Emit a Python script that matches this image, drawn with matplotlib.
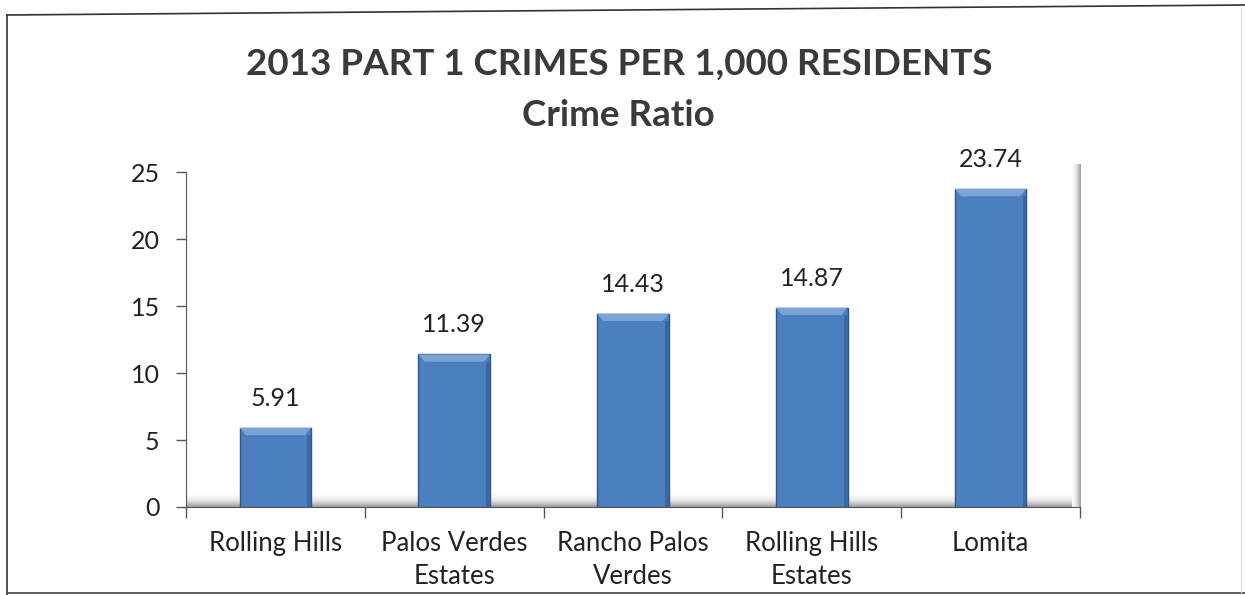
import matplotlib
matplotlib.use("Agg")
import matplotlib.pyplot as plt
import matplotlib.patches as mpatches
from matplotlib.colors import LinearSegmentedColormap
import numpy as np

plt.rcParams['font.family'] = ['Lato', 'DejaVu Sans']

TITLE = "2013 PART 1 CRIMES PER 1,000 RESIDENTS\nCrime Ratio"
cities = ["Rolling Hills", "Palos Verdes\nEstates", "Rancho Palos\nVerdes",
          "Rolling Hills\nEstates", "Lomita"]
crime_ratio = [5.91, 11.39, 14.43, 14.87, 23.74]
y_ticks = [0, 5, 10, 15, 20, 25]

BAR_COLOUR = '#4c7fbf'
BEVEL_COLOUR = '#7ba3d5'
EDGE_COLOUR = '#2f5689'
TEXT_COLOUR = '#222222'
BAR_WIDTH = 0.4

fig = plt.figure(figsize=(12.45, 5.95), dpi=100)
ax = fig.add_axes([186 / 1245, 1 - 507 / 595, (1080 - 186) / 1245, 343 / 595])

x = np.arange(len(cities))
ax.set_xlim(-0.5, len(cities) - 0.5)
ax.set_ylim(0, 25.6)

grey_fade = LinearSegmentedColormap.from_list('fade', ['#ffffff', '#e6e6e6', '#9c9c9c'])

# grey floor along the bottom of the plot area, darker towards the axis
floor = np.linspace(1, 0, 64).reshape(-1, 1)
ax.imshow(floor, cmap=grey_fade, vmin=0, vmax=1, aspect='auto', origin='lower',
          extent=(-0.5, len(cities) - 0.5, 0, 0.9), zorder=1)
# grey side wall on the right
wall = np.linspace(0, 1, 32).reshape(1, -1)
ax.imshow(wall, cmap=grey_fade, vmin=0, vmax=1, aspect='auto',
          extent=(len(cities) - 0.545, len(cities) - 0.5, 0, 25.6), zorder=1)

bars = ax.bar(x, crime_ratio, width=BAR_WIDTH, color=BAR_COLOUR,
              edgecolor=EDGE_COLOUR, linewidth=1.0, zorder=3)

# bevelled top on each bar
bx = 0.035
by = 0.55
for rect in bars:
    x0 = rect.get_x()
    x1 = x0 + rect.get_width()
    top = rect.get_height()
    bevel = mpatches.Polygon([(x0, top), (x1, top), (x1 - bx, top - by),
                              (x0 + bx, top - by)], closed=True,
                             facecolor=BEVEL_COLOUR, edgecolor='none', zorder=4)
    ax.add_patch(bevel)
    shade = mpatches.Rectangle((x1 - bx * 0.6, 0), bx * 0.6, top - by,
                               facecolor='#3b68a2', edgecolor='none', zorder=4)
    ax.add_patch(shade)
    ax.annotate("%.2f" % top, (rect.get_x() + rect.get_width() / 2, top),
                xytext=(0, 13), textcoords='offset points', ha='center',
                va='bottom', fontsize=18, color=TEXT_COLOUR)

ax.set_yticks(y_ticks)
ax.set_yticklabels([str(t) for t in y_ticks], fontsize=18, color=TEXT_COLOUR)
ax.set_xticks(x)
ax.set_xticklabels(cities, fontsize=18.5, color=TEXT_COLOUR, linespacing=1.4)
ax.tick_params(axis='x', length=0, pad=17)
ax.tick_params(axis='y', length=7, width=1, color='#555555', pad=12)
ax.set_xticks(np.arange(-0.5, len(cities)), minor=True)
ax.tick_params(axis='x', which='minor', length=8, width=1, color='#555555',
               direction='out')

ax.spines['top'].set_visible(False)
ax.spines['right'].set_visible(False)
ax.spines['left'].set_bounds(0, 25)
ax.spines['left'].set_color('#555555')
ax.spines['bottom'].set_color('#555555')

fig.text(0.497, 1 - 48 / 595, TITLE, ha='center', va='top', fontsize=26.5,
         fontweight='bold', color='#3a3a3a', linespacing=1.68)

# outer frame of the chart box
fig.add_artist(plt.Line2D([7 / 1245, 1], [1 - 15 / 595, 1 - 5 / 595],
                          color='#333333', lw=1.2))
fig.add_artist(plt.Line2D([7 / 1245, 7 / 1245], [0, 1 - 15 / 595],
                          color='#333333', lw=1.2))
fig.add_artist(plt.Line2D([7 / 1245, 1], [2 / 595, 2 / 595],
                          color='#444444', lw=1.2))
fig.add_artist(plt.Line2D([1241 / 1245, 1241 / 1245], [0, 1 - 8 / 595],
                          color='#dddddd', lw=0.8))

fig.savefig("out.png", dpi=100)
